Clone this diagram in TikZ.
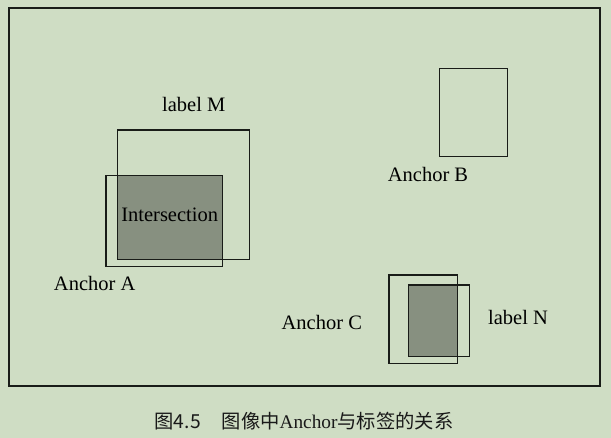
\documentclass[tikz,border=0pt]{standalone}
\usepackage{fontspec}
\setmainfont{Liberation Serif}
\newfontfamily\cjk{Noto Sans CJK SC}
\definecolor{bgcol}{RGB}{207,221,196}
\definecolor{fillcol}{RGB}{135,144,128}
\definecolor{linecol}{RGB}{25,28,24}
\begin{document}
\begin{tikzpicture}[x=1pt,y=-1pt,
  box/.style={draw=linecol,line width=1.5pt,inner sep=0pt,outer sep=0pt,rectangle},
  inter/.style={fill=fillcol,inner sep=0pt,outer sep=0pt,rectangle},
  lbl/.style={anchor=base,inner sep=0pt,font=\fontsize{20.5}{24}\selectfont,text=black}]
\fill[bgcol] (0,0) rectangle (611,438);
\useasboundingbox (0,0) rectangle (611,438);
% outer frame
\node[box,line width=2pt,minimum width=591.3pt,minimum height=377.7pt] (frame) at (304.65,196.85) {};
% intersections (fill below boxes)
\node[inter,minimum width=105pt,minimum height=84pt] (I1) at (169.8,217.3) {};
\node[inter,minimum width=48.6pt,minimum height=71.3pt] (I2) at (433,320.65) {};
% boxes
\node[box,minimum width=132pt,minimum height=129.3pt] (M) at (183.3,194.65) {};
\node[box,minimum width=116.3pt,minimum height=91.4pt] (A) at (164.15,221) {};
\node[box,minimum width=68pt,minimum height=88.4pt] (B) at (473.3,112.5) {};
\node[box,minimum width=68.3pt,minimum height=88.7pt] (C) at (423.15,319.35) {};
\node[box,minimum width=60.6pt,minimum height=71.3pt] (N) at (439,320.65) {};
% labels
\node[lbl] (tM) at (193.7,111.7) {label M};
\node[lbl] (tI) at (169.7,221.7) {Intersection};
\node[lbl] (tA) at (94.7,291) {Anchor A};
\node[lbl] (tB) at (428,181.7) {Anchor B};
\node[lbl] (tC) at (321.8,329.3) {Anchor C};
\node[lbl] (tN) at (518,324.3) {label N};
% caption
\node[anchor=base,inner sep=0pt,font=\fontsize{19.3}{22}\selectfont,text=black!90] (cap) at (304,428.3)
  {{\cjk 图4.5}\hspace*{21pt}{\cjk 图像中}Anchor{\cjk 与标签的关系}};
\end{tikzpicture}
\end{document}
